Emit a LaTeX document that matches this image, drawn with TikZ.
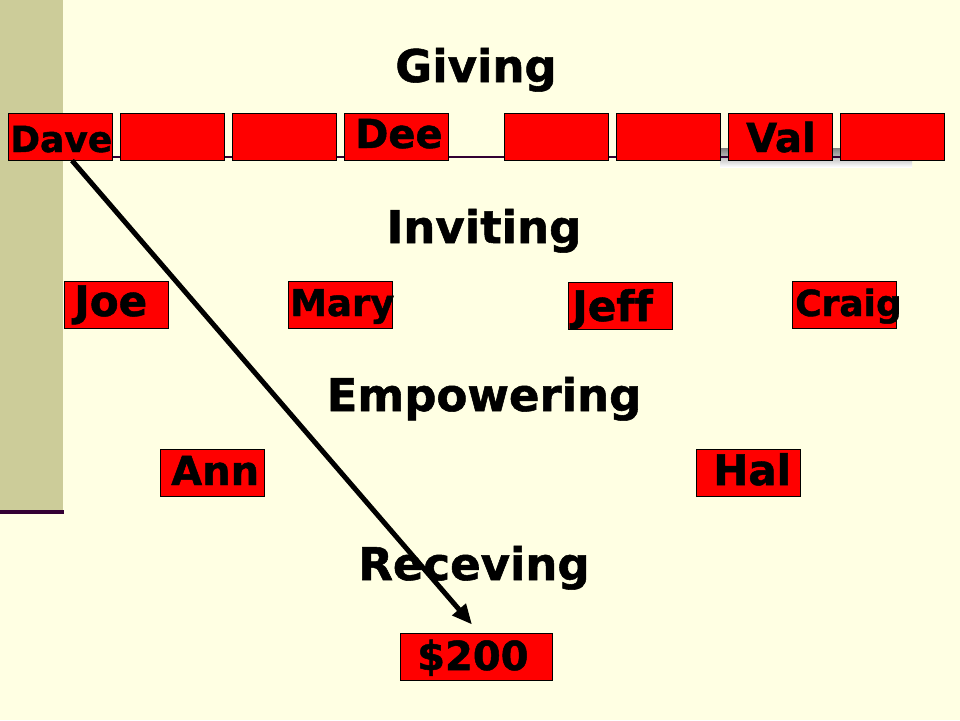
\documentclass[tikz,border=0pt]{standalone}
\usepackage{fontspec}
\usepackage{xcolor}
\usetikzlibrary{arrows.meta}

\newfontfamily\heavyfont{DejaVu Sans}[BoldFont={DejaVu Sans Bold}, BoldFeatures={FakeBold=1.2}, Ligatures=NoCommon]
\newcommand{\heavysz}[1]{\fontsize{#1}{#1}\selectfont\heavyfont\bfseries}

\definecolor{pagebg}{HTML}{FFFFE3}
\definecolor{sidebar}{HTML}{CCCC99}
\definecolor{plum}{HTML}{330033}
\definecolor{shade}{HTML}{B2B2B2}

\tikzset{
  pbox/.style={draw=black, line width=1pt, fill=red, minimum width=104pt, minimum height=47pt, inner sep=0pt},
  ptext/.style={anchor=base west, inner sep=0pt, text=black},
  head/.style={anchor=base, inner sep=0pt, font=\heavysz{45}},
}

\begin{document}
\begin{tikzpicture}[x=1pt, y=-1pt, >=Stealth]
    \useasboundingbox (0,0) rectangle (960,720);
    \fill[pagebg] (0,0) rectangle (960,720);

    % === side bar ===
    \fill[sidebar] (0,0) rectangle (63,510);
    \fill[plum] (0,510) rectangle (64,514);

    % === headings ===
    \node[head] (giving) at (476,82) {Giving};
    \node[head] (inviting) at (484,243) {Inviting};
    \node[head] (empowering) at (484,411) {Empowering};
    \node[head] (receving) at (474,580) {Receving};

    % === top row: givers ===
    \fill[shade] (720,148) rectangle (912,167);
    \draw[plum, line width=2pt] (8,157) -- (944,157);
    \node[pbox] (dave) at (60,136.5) {};
    \node[pbox] (g2) at (172,136.5) {};
    \node[pbox] (g3) at (284,136.5) {};
    \node[pbox] (dee) at (396,136.5) {};
    \node[pbox] (g5) at (556,136.5) {};
    \node[pbox] (g6) at (668,136.5) {};
    \node[pbox] (val) at (780,136.5) {};
    \node[pbox] (g8) at (892,136.5) {};
    \node[ptext, font=\heavysz{36}] (davet) at (10,152) {Dave};
    \node[ptext, font=\heavysz{40}] (deet) at (355,148) {Dee};
    \node[ptext, font=\heavysz{40}] (valt) at (746,152) {Val};

    % === second row: inviters ===
    \node[pbox] (joe) at (116,304.5) {};
    \node[pbox] (mary) at (340,304.5) {};
    \node[pbox] (jeff) at (620,305.5) {};
    \node[pbox] (craig) at (844,304.5) {};
    \node[ptext, font=\heavysz{42}] (joet) at (74,316) {Joe};
    \node[ptext, font=\heavysz{37}] (maryt) at (290,316) {Mary};
    \node[ptext, font=\heavysz{42}] (jefft) at (572,321) {Jeff};
    \node[ptext, font=\heavysz{36}] (craigt) at (795,316) {Craig};

    % === third row: empowerers ===
    \node[pbox] (ann) at (212,472.5) {};
    \node[pbox] (hal) at (748,472.5) {};
    \node[ptext, font=\heavysz{40}] (annt) at (171,485) {Ann};
    \node[ptext, font=\heavysz{42}] (halt) at (713,485) {Hal};

    % === receiver ===
    \node[pbox, minimum width=152pt] (money) at (476,656.5) {};
    \node[ptext, font=\heavysz{40}] (moneyt) at (417,670) {\$200};

    % Dave -> $200
    \draw[line width=5pt, -{Triangle[length=20pt, width=17pt]}]
        ([xshift=12pt]dave.south) -- ([xshift=-4pt, yshift=8pt]money.north);
\end{tikzpicture}
\end{document}
